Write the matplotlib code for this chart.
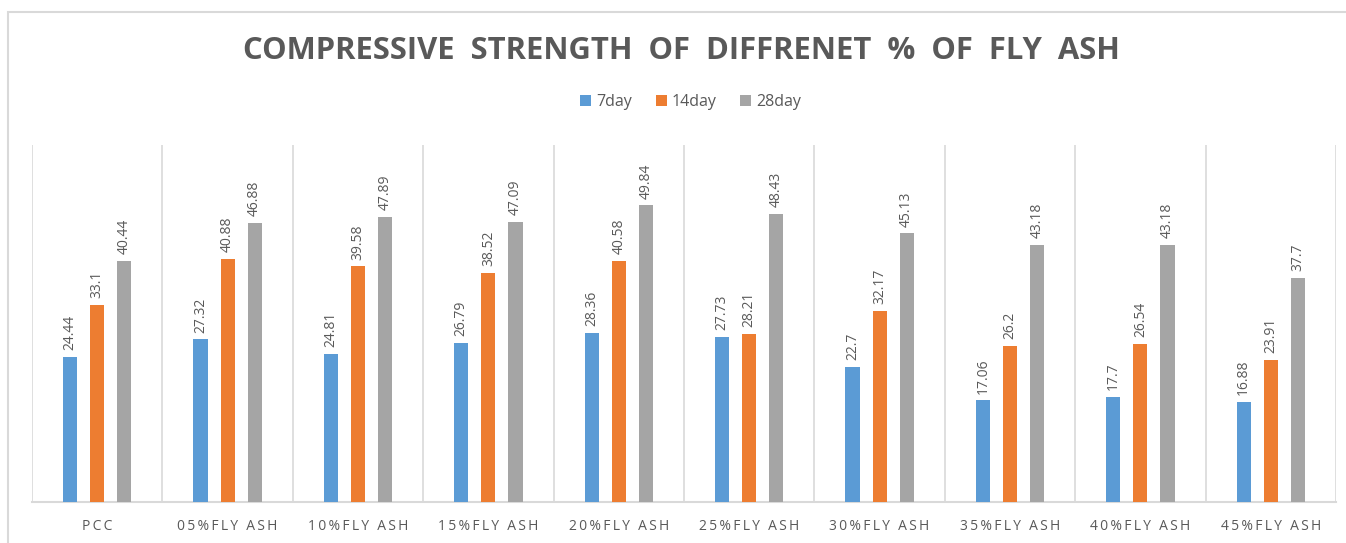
import numpy as np
import matplotlib.pyplot as plt
from matplotlib.patches import Rectangle

categories = ["PCC", "05%FLY ASH", "10%FLY ASH", "15%FLY ASH", "20%FLY ASH",
              "25%FLY ASH", "30%FLY ASH", "35%FLY ASH", "40%FLY ASH", "45%FLY ASH"]
day7 = [24.44, 27.32, 24.81, 26.79, 28.36, 27.73, 22.7, 17.06, 17.7, 16.88]
day14 = [33.1, 40.88, 39.58, 38.52, 40.58, 28.21, 32.17, 26.2, 26.54, 23.91]
day28 = [40.44, 46.88, 47.89, 47.09, 49.84, 48.43, 45.13, 43.18, 43.18, 37.7]
series_names = ["7day", "14day", "28day"]
colors = ["#5b9bd5", "#ed7d31", "#a5a5a5"]

txt = "#595959"
plt.rcParams['font.family'] = ['Open Sans', 'DejaVu Sans']


def spaced(s, sep="\u2009"):
    return sep.join(s)


fig = plt.figure(figsize=(13.46, 5.43), dpi=100)
# outer chart border
fig.patches.append(Rectangle((8 / 1346, -0.05), 1.2, 1 - 12 / 543 + 0.05,
                             transform=fig.transFigure, fill=False,
                             edgecolor="#d9d9d9", linewidth=1.5))

ax = fig.add_axes([32 / 1346, 1 - 502 / 543, (1336 - 32) / 1346, (502 - 145) / 543])
x = np.arange(len(categories))
step = 0.208
w = 0.108
for i, (vals, name) in enumerate(zip([day7, day14, day28], series_names)):
    pos = x + (i - 1) * step
    bars = ax.bar(pos, vals, width=w, color=colors[i], label=name, zorder=3)
    for xp, v in zip(pos, vals):
        ax.annotate(f"{v:g}", (xp, v), xytext=(0, 5), textcoords="offset points",
                    rotation=90, ha="center", va="bottom", fontsize=10, color=txt)

ax.set_xlim(-0.5, len(categories) - 0.5)
ax.set_ylim(0, 60)
ax.set_yticks([])
ax.set_xticks(x)
ax.set_xticklabels([spaced(c) for c in categories], fontsize=10, color=txt)
ax.tick_params(axis="x", length=0, pad=12)
for b in np.arange(len(categories) + 1) - 0.5:
    ax.axvline(b, color="#d9d9d9", linewidth=1.2, zorder=1)
for s in ["top", "left", "right"]:
    ax.spines[s].set_visible(False)
ax.spines["bottom"].set_color("#d9d9d9")
ax.spines["bottom"].set_linewidth(1.5)

fig.text(0.506, 1 - 51 / 543, "COMPRESSIVE  STRENGTH  OF  DIFFRENET  %  OF  FLY  ASH",
         ha="center", va="center", fontsize=22.3, fontweight="bold", color=txt)
fig.legend(loc="center", bbox_to_anchor=(0.513, 1 - 102 / 543), ncol=3, frameon=False,
           fontsize=11.5, handlelength=0.7, handleheight=0.7, handletextpad=0.3,
           columnspacing=1.5, labelcolor=txt)

fig.savefig("out.png", dpi=100)
